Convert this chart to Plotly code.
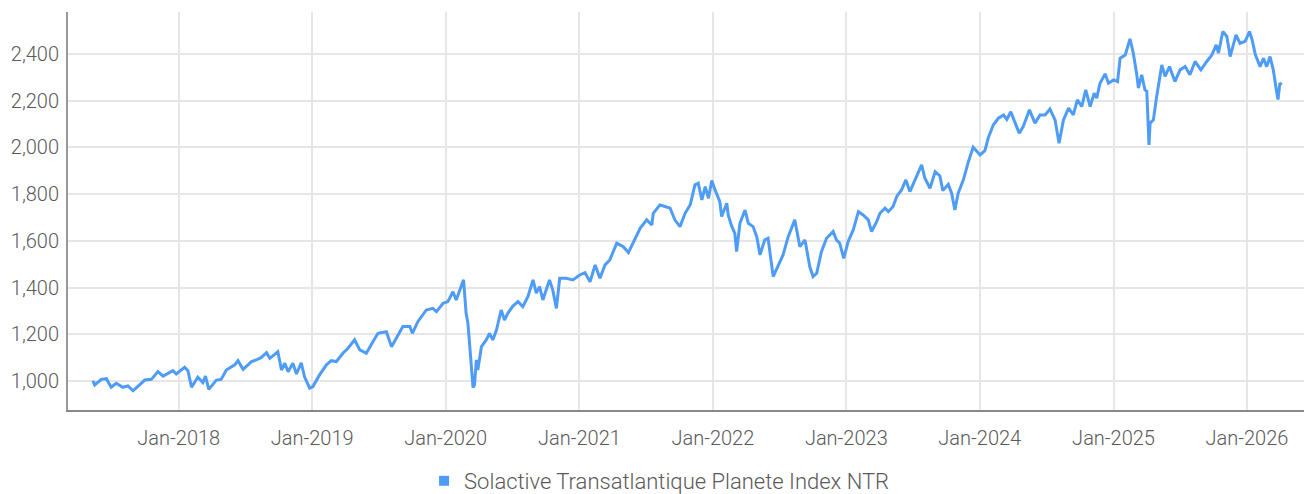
import plotly.graph_objects as go

series_name = "Solactive Transatlantique Planete Index NTR"

dates = [
    "2017-05-11", "2017-05-16", "2017-06-03", "2017-06-17", "2017-06-30", "2017-07-14",
    "2017-08-01", "2017-08-15", "2017-08-29", "2017-09-16", "2017-09-30", "2017-10-18",
    "2017-11-05", "2017-11-19", "2017-12-16", "2017-12-25",
    "2018-01-17", "2018-01-26", "2018-02-05", "2018-02-22", "2018-03-08", "2018-03-15",
    "2018-03-24", "2018-04-14", "2018-04-27", "2018-05-11", "2018-06-03", "2018-06-12",
    "2018-06-26", "2018-07-19", "2018-08-01", "2018-08-15", "2018-08-29", "2018-09-07",
    "2018-09-29", "2018-10-09", "2018-10-18", "2018-10-27", "2018-11-09", "2018-11-19",
    "2018-12-02", "2018-12-11", "2018-12-25",
    "2019-01-03", "2019-01-21", "2019-02-09", "2019-02-22", "2019-03-08", "2019-03-26",
    "2019-04-09", "2019-04-27", "2019-05-11", "2019-05-29", "2019-06-16", "2019-06-30",
    "2019-07-23", "2019-08-06", "2019-08-19", "2019-09-06", "2019-09-25", "2019-10-02",
    "2019-10-17", "2019-11-09", "2019-11-27", "2019-12-07", "2019-12-25",
    "2020-01-07", "2020-01-21", "2020-01-30", "2020-02-19", "2020-02-26", "2020-03-02",
    "2020-03-11", "2020-03-16", "2020-03-20", "2020-03-25", "2020-03-29", "2020-04-08",
    "2020-04-21", "2020-04-30", "2020-05-09", "2020-05-19", "2020-06-01", "2020-06-10",
    "2020-06-19", "2020-07-03", "2020-07-17", "2020-07-30", "2020-08-13", "2020-08-27",
    "2020-09-05", "2020-09-14", "2020-09-23", "2020-10-11", "2020-10-20", "2020-10-30",
    "2020-11-08", "2020-11-26", "2020-12-14",
    "2021-01-02", "2021-01-16", "2021-01-30", "2021-02-13", "2021-02-26", "2021-03-12",
    "2021-03-25", "2021-04-13", "2021-05-01", "2021-05-15", "2021-05-28", "2021-06-16",
    "2021-07-04", "2021-07-18", "2021-07-22", "2021-08-09", "2021-08-23", "2021-09-06",
    "2021-09-19", "2021-10-03", "2021-10-17", "2021-10-31", "2021-11-13", "2021-11-22",
    "2021-12-02", "2021-12-11", "2021-12-20", "2021-12-29",
    "2022-01-07", "2022-01-20", "2022-01-25", "2022-02-08", "2022-02-12", "2022-02-21",
    "2022-03-02", "2022-03-07", "2022-03-16", "2022-03-30", "2022-04-08", "2022-04-21",
    "2022-05-01", "2022-05-10", "2022-05-23", "2022-06-01", "2022-06-15", "2022-06-29",
    "2022-07-12", "2022-07-26", "2022-08-04", "2022-08-13", "2022-08-27", "2022-09-10",
    "2022-09-23", "2022-10-02", "2022-10-12", "2022-10-25", "2022-11-08", "2022-11-26",
    "2022-12-05", "2022-12-14", "2022-12-25",
    "2023-01-06", "2023-01-20", "2023-02-03", "2023-02-16", "2023-03-02", "2023-03-11",
    "2023-03-25", "2023-04-03", "2023-04-17", "2023-04-26", "2023-05-09", "2023-05-19",
    "2023-06-01", "2023-06-13", "2023-06-24", "2023-07-08", "2023-07-26", "2023-08-04",
    "2023-08-18", "2023-09-01", "2023-09-14", "2023-09-22", "2023-10-07", "2023-10-16",
    "2023-10-25", "2023-11-03", "2023-11-17", "2023-12-01", "2023-12-14",
    "2024-01-02", "2024-01-15", "2024-01-24", "2024-02-07", "2024-02-21", "2024-03-06",
    "2024-03-15", "2024-03-26", "2024-04-07", "2024-04-18", "2024-04-29", "2024-05-16",
    "2024-05-31", "2024-06-14", "2024-06-28", "2024-07-11", "2024-07-25", "2024-08-05",
    "2024-08-17", "2024-08-31", "2024-09-13", "2024-09-24", "2024-10-06", "2024-10-17",
    "2024-10-29", "2024-11-09", "2024-11-16", "2024-11-25", "2024-12-09", "2024-12-18",
    "2025-01-01", "2025-01-12", "2025-01-19", "2025-02-02", "2025-02-15", "2025-02-24",
    "2025-03-05", "2025-03-10", "2025-03-19", "2025-03-28", "2025-04-02", "2025-04-08",
    "2025-04-11", "2025-04-20", "2025-04-29", "2025-05-13", "2025-05-22", "2025-06-03",
    "2025-06-18", "2025-07-02", "2025-07-16", "2025-07-29", "2025-08-12", "2025-08-28",
    "2025-09-13", "2025-09-27", "2025-10-09", "2025-10-15", "2025-10-27", "2025-11-07",
    "2025-11-16", "2025-12-02", "2025-12-13", "2025-12-27",
    "2026-01-08", "2026-01-15", "2026-01-24", "2026-02-06", "2026-02-15", "2026-02-24",
    "2026-03-05", "2026-03-14", "2026-03-23", "2026-03-27", "2026-04-01", "2026-04-06",
]

values = [
    1001, 983, 1007, 1010, 973, 990,
    973, 979, 958, 983, 1004, 1007,
    1040, 1021, 1044, 1030,
    1059, 1044, 973, 1016, 993, 1021,
    964, 1004, 1007, 1047, 1069, 1087,
    1050, 1083, 1090, 1101, 1121, 1097,
    1125, 1047, 1076, 1040, 1076, 1030,
    1078, 1018, 969,
    976, 1026, 1069, 1087, 1083, 1119,
    1140, 1176, 1133, 1119, 1168, 1204,
    1211, 1147, 1183, 1233, 1233, 1204,
    1254, 1304, 1311, 1297, 1333,
    1340, 1382, 1347, 1433, 1290, 1247,
    1090, 972, 985, 1090, 1047, 1147,
    1176, 1204, 1176, 1218, 1304, 1261,
    1290, 1321, 1340, 1318, 1361, 1433,
    1376, 1404, 1347, 1433, 1390, 1311,
    1440, 1440, 1433,
    1454, 1464, 1425, 1497, 1440, 1497,
    1518, 1590, 1575, 1550, 1590, 1654,
    1690, 1668, 1718, 1754, 1747, 1740,
    1690, 1661, 1718, 1754, 1840, 1847,
    1775, 1832, 1782, 1858,
    1818, 1768, 1704, 1761, 1711, 1665,
    1632, 1554, 1675, 1732, 1675, 1661,
    1618, 1540, 1604, 1611, 1447, 1497,
    1540, 1618, 1654, 1690, 1575, 1604,
    1490, 1447, 1461, 1554, 1611, 1640,
    1604, 1590, 1525,
    1597, 1647, 1725, 1711, 1690, 1640,
    1682, 1718, 1740, 1725, 1747, 1790,
    1818, 1861, 1811, 1861, 1925, 1868,
    1825, 1896, 1878, 1815, 1842, 1804,
    1732, 1804, 1860, 1939, 2001,
    1968, 1986, 2039, 2096, 2125, 2139,
    2120, 2153, 2104, 2061, 2089, 2161,
    2104, 2139, 2139, 2164, 2118, 2018,
    2118, 2168, 2139, 2204, 2175, 2246,
    2175, 2232, 2211, 2275, 2315, 2275,
    2289, 2282, 2382, 2396, 2465, 2404,
    2318, 2254, 2311, 2246, 2240, 2011,
    2104, 2118, 2218, 2353, 2304, 2346,
    2282, 2332, 2346, 2311, 2368, 2332,
    2368, 2396, 2439, 2404, 2496, 2475,
    2389, 2482, 2446, 2454,
    2496, 2461, 2396, 2346, 2382, 2346,
    2389, 2332, 2239, 2205, 2275, 2268,
]

line_color = "#4f9cf6"
font_family = "Roboto, sans-serif"
text_color = "#5a5a5a"

fig = go.Figure()
fig.add_trace(go.Scatter(
    x=dates, y=values, mode="lines",
    line=dict(color=line_color, width=3),
    showlegend=False, name=series_name,
))
fig.add_trace(go.Scatter(
    x=[None], y=[None], mode="markers",
    marker=dict(symbol="square", size=10, color=line_color),
    name=series_name, showlegend=True,
))

fig.update_layout(
    width=1304, height=494,
    margin=dict(l=68, r=0, t=12, b=84, autoexpand=False),
    paper_bgcolor="white", plot_bgcolor="white",
    font=dict(family=font_family, size=20, color=text_color, weight=300),
    legend=dict(orientation="h", xref="container", yref="container",
                x=0.3252, xanchor="left", y=0.0263, yanchor="middle",
                font=dict(family=font_family, size=22, color=text_color, weight=300),
                itemwidth=30),
)
fig.update_xaxes(
    type="date", range=["2017-03-04", "2026-06-06"],
    tick0="2018-01-01", dtick="M12", tickformat="%b-%Y",
    showgrid=True, gridcolor="#e6e6e6", gridwidth=2,
    showline=True, linecolor="#888888", linewidth=2,
    ticks="", ticklabelstandoff=9, zeroline=False, automargin=False,
)
fig.update_yaxes(
    range=[875.8, 2579.8], tick0=1000, dtick=200, tickformat=",",
    showgrid=True, gridcolor="#e6e6e6", gridwidth=2,
    showline=True, linecolor="#999999", linewidth=2,
    ticks="", ticklabelstandoff=3, zeroline=False, automargin=False,
)

page_fix = "document.body.style.margin='0';document.body.style.overflow='hidden';"
fig.write_html("out.html", post_script=page_fix, config={"displayModeBar": False})
